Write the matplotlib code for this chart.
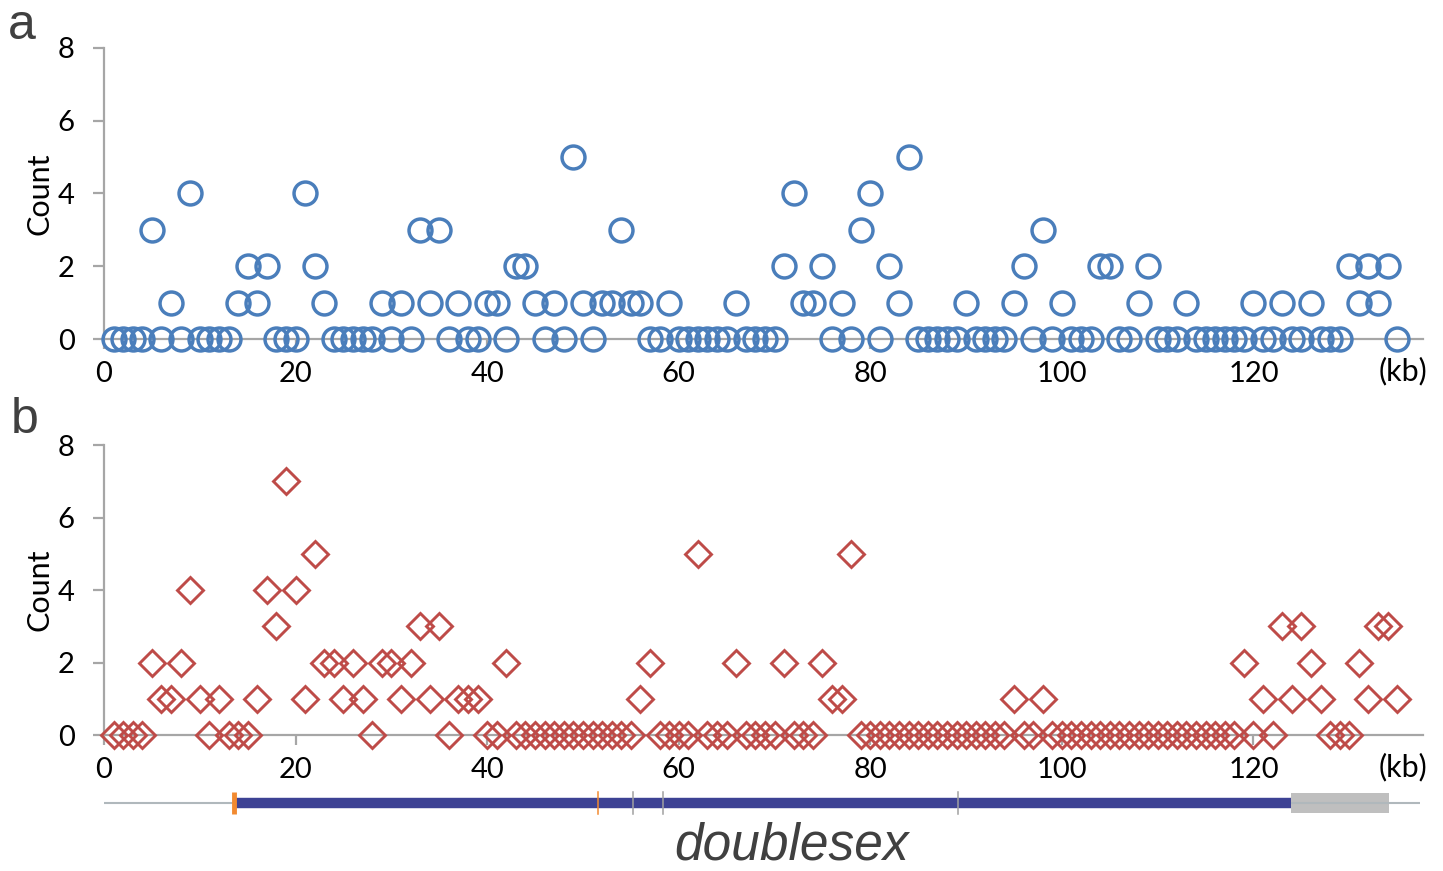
import matplotlib
matplotlib.use("Agg")
import matplotlib.pyplot as plt
import numpy as np

# ---- data ----
kb = list(range(1, 136))

counts_a = [0, 0, 0, 0, 3, 0, 1, 0, 4, 0,
            0, 0, 0, 1, 2, 1, 2, 0, 0, 0,
            4, 2, 1, 0, 0, 0, 0, 0, 1, 0,
            1, 0, 3, 1, 3, 0, 1, 0, 0, 1,
            1, 0, 2, 2, 1, 0, 1, 0, 5, 1,
            0, 1, 1, 3, 1, 1, 0, 0, 1, 0,
            0, 0, 0, 0, 0, 1, 0, 0, 0, 0,
            2, 4, 1, 1, 2, 0, 1, 0, 3, 4,
            0, 2, 1, 5, 0, 0, 0, 0, 0, 1,
            0, 0, 0, 0, 1, 2, 0, 3, 0, 1,
            0, 0, 0, 2, 2, 0, 0, 1, 2, 0,
            0, 0, 1, 0, 0, 0, 0, 0, 0, 1,
            0, 0, 1, 0, 0, 1, 0, 0, 0, 2,
            1, 2, 1, 2, 0]

counts_b = [0, 0, 0, 0, 2, 1, 1, 2, 4, 1,
            0, 1, 0, 0, 0, 1, 4, 3, 7, 4,
            1, 5, 2, 2, 1, 2, 1, 0, 2, 2,
            1, 2, 3, 1, 3, 0, 1, 1, 1, 0,
            0, 2, 0, 0, 0, 0, 0, 0, 0, 0,
            0, 0, 0, 0, 0, 1, 2, 0, 0, 0,
            0, 5, 0, 0, 0, 2, 0, 0, 0, 0,
            2, 0, 0, 0, 2, 1, 1, 5, 0, 0,
            0, 0, 0, 0, 0, 0, 0, 0, 0, 0,
            0, 0, 0, 0, 1, 0, 0, 1, 0, 0,
            0, 0, 0, 0, 0, 0, 0, 0, 0, 0,
            0, 0, 0, 0, 0, 0, 0, 0, 2, 0,
            1, 0, 3, 1, 3, 2, 1, 0, 0, 0,
            2, 1, 3, 3, 1]

x_ticks = [0, 20, 40, 60, 80, 100, 120]
y_ticks = [0, 2, 4, 6, 8]

# gene model (kb)
gene_line = (0.0, 137.4)
coding = (13.8, 123.9)
utr = (123.9, 134.2)
orange_marks = [51.6]
grey_marks = [55.2, 58.4, 89.2]
start_mark = 13.6

W, H = 1443, 871
fig = plt.figure(figsize=(W / 100, H / 100), dpi=100)
plt.rcParams['font.family'] = ['Lato', 'DejaVu Sans']

XMAX = 137.7
axis_col = '#a6a6a6'

def px_axes(left, top, right, bottom):
    return fig.add_axes([left / W, 1 - bottom / H, (right - left) / W, (bottom - top) / H])

def style(ax):
    ax.set_xlim(0, XMAX)
    ax.set_ylim(0, 8)
    for s in ['top', 'right']:
        ax.spines[s].set_visible(False)
    for s in ['left', 'bottom']:
        ax.spines[s].set_color(axis_col)
        ax.spines[s].set_linewidth(1.6)
    ax.set_xticks(x_ticks)
    ax.set_yticks(y_ticks)
    ax.tick_params(axis='x', direction='out', length=7, width=1.6, color=axis_col,
                   labelsize=21, pad=9)
    ax.tick_params(axis='y', direction='out', length=8, width=1.6, color=axis_col,
                   labelsize=21, pad=13)
    ax.set_ylabel('Count', fontsize=22, labelpad=3)
    ax.text(135.6, -0.5, '(kb)', fontsize=22, ha='center', va='top',
            transform=ax.transData, clip_on=False)

ax1 = px_axes(104, 48, 1423, 339)
style(ax1)
ax1.plot(kb, counts_a, linestyle='none', marker='o', markersize=16.5,
         markerfacecolor='none', markeredgecolor='#4a7ebb', markeredgewidth=2.5,
         clip_on=False, zorder=3)

ax2 = px_axes(104, 445, 1423, 735)
style(ax2)
ax2.plot(kb, counts_b, linestyle='none', marker='D', markersize=13.5,
         markerfacecolor='none', markeredgecolor='#be4b48', markeredgewidth=2.1,
         clip_on=False, zorder=3)

fig.text(22 / W, 1 - 39 / H, 'a', fontsize=36, color='#404040',
         family='Liberation Sans', ha='center', va='baseline')
fig.text(25 / W, 1 - 433 / H, 'b', fontsize=36, color='#404040',
         family='Liberation Sans', ha='center', va='baseline')

# gene model axis
axg = px_axes(104, 785, 1423, 821)
axg.set_xlim(0, XMAX)
axg.set_ylim(-1, 1)
axg.axis('off')
axg.plot(gene_line, [0, 0], color='#b0b8bc', linewidth=1.5, solid_capstyle='butt')
axg.plot(coding, [0, 0], color='#3d4294', linewidth=7.5, solid_capstyle='butt')
axg.fill_between(utr, [-0.58, -0.58], [0.58, 0.58], color='#bfbfbf', linewidth=0)
axg.plot([start_mark, start_mark], [-0.62, 0.62], color='#f28a30', linewidth=3.5,
         solid_capstyle='butt')
for m in orange_marks:
    axg.plot([m, m], [-0.62, 0.62], color='#f28a30', linewidth=1.1)
for m in grey_marks:
    axg.plot([m, m], [-0.62, 0.62], color='#a0a0a0', linewidth=1.1)

fig.text(792 / W, 1 - 846 / H, 'doublesex', fontsize=37, style='italic',
         color='#404040', family='Liberation Sans', ha='center', va='center')

fig.savefig('out.png', dpi=100)
